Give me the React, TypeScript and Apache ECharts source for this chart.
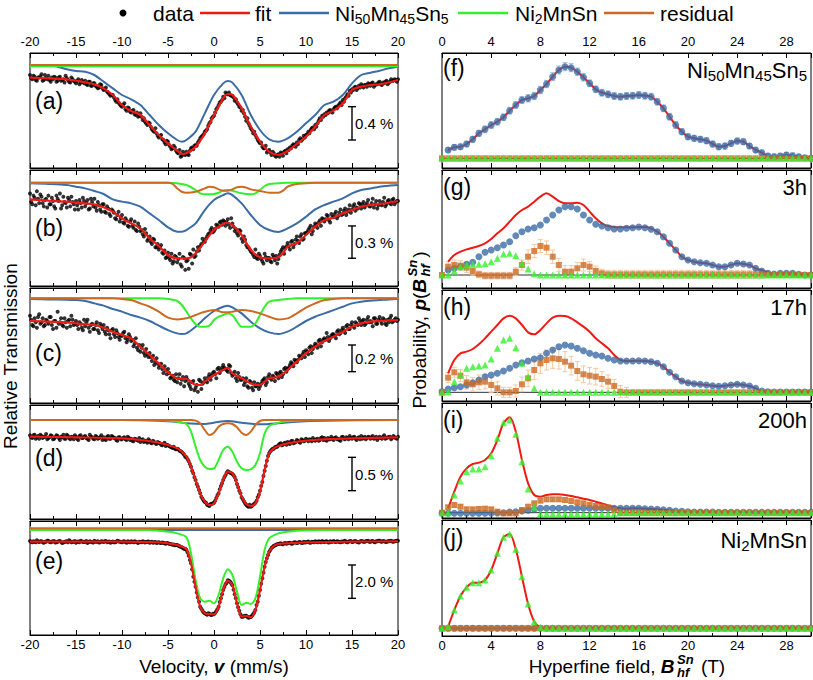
import React, { useEffect, useRef } from 'react';
import * as echarts from 'echarts';

const FONT = 'Liberation Sans, Arial, Helvetica, sans-serif';
const RED = '#f01a14';
const BLUE = '#3b6ca6';
const GREEN = '#33f02c';
const ORANGE = '#cc6a22';
const BLUE_ERR = '#9dbbdc';
const ORANGE_ERR = '#f5c6a0';

// ---------- velocity channels (left panels) ----------
const VELOCITY = Array.from({ length: 161 }, (_, i) => -20 + i * 0.25);
const VELOCITY2 = Array.from({ length: 160 }, (_, i) => -19.875 + i * 0.25);

const DATA_A = [
  -0.12, -0.17, -0.14, -0.19, -0.15, -0.11, -0.18, -0.16, -0.13, -0.2, -0.17, -0.15, -0.19, -0.14, -0.18, -0.21,
  -0.16, -0.2, -0.15, -0.19, -0.22, -0.17, -0.21, -0.2, -0.19, -0.24, -0.2, -0.25, -0.22, -0.26, -0.27, -0.24,
  -0.3, -0.27, -0.33, -0.37, -0.36, -0.42, -0.41, -0.47, -0.5, -0.46, -0.55, -0.52, -0.57, -0.54, -0.6, -0.62,
  -0.58, -0.66, -0.68, -0.72, -0.7, -0.77, -0.8, -0.82, -0.87, -0.84, -0.9, -0.95, -0.92, -0.98, -1.0, -0.99,
  -1.05, -1.02, -1.09, -1.07, -1.04, -1.08, -1.0, -1.01, -0.96, -0.93, -0.88, -0.85, -0.8, -0.77, -0.7, -0.64,
  -0.61, -0.53, -0.48, -0.44, -0.38, -0.33, -0.35, -0.36, -0.37, -0.43, -0.45, -0.5, -0.55, -0.58, -0.67, -0.7,
  -0.76, -0.82, -0.84, -0.9, -0.94, -0.98, -1.0, -1.05, -1.02, -1.08, -1.06, -1.1, -1.07, -1.05, -1.09, -1.03,
  -1.01, -0.99, -0.97, -0.96, -0.93, -0.9, -0.91, -0.85, -0.84, -0.8, -0.78, -0.75, -0.72, -0.7, -0.64, -0.61,
  -0.59, -0.57, -0.55, -0.56, -0.53, -0.5, -0.49, -0.45, -0.42, -0.4, -0.35, -0.31, -0.29, -0.27, -0.3, -0.25,
  -0.23, -0.27, -0.24, -0.22, -0.25, -0.21, -0.24, -0.23, -0.2, -0.24, -0.22, -0.19, -0.21, -0.17, -0.19, -0.18,
  -0.17,
];
const DATA_A2 = [
  -0.16, -0.13, -0.18, -0.15, -0.14, -0.19, -0.12, -0.17, -0.18, -0.15, -0.14, -0.2, -0.15, -0.19, -0.17, -0.13,
  -0.18, -0.21, -0.17, -0.2, -0.19, -0.23, -0.18, -0.22, -0.23, -0.2, -0.25, -0.22, -0.25, -0.28, -0.23, -0.28,
  -0.29, -0.32, -0.35, -0.36, -0.39, -0.44, -0.45, -0.49, -0.48, -0.53, -0.51, -0.56, -0.55, -0.59, -0.57, -0.61,
  -0.62, -0.64, -0.7, -0.69, -0.74, -0.79, -0.76, -0.85, -0.85, -0.89, -0.93, -0.91, -0.96, -1.01, -0.97, -1.03,
  -1.06, -1.1, -1.04, -1.08, -1.07, -1.03, -0.99, -0.97, -0.97, -0.91, -0.86, -0.83, -0.79, -0.73, -0.68, -0.62,
  -0.57, -0.51, -0.45, -0.42, -0.4, -0.35, -0.33, -0.37, -0.39, -0.41, -0.47, -0.51, -0.54, -0.62, -0.64, -0.73,
  -0.78, -0.8, -0.87, -0.92, -0.93, -1.0, -0.97, -1.03, -1.05, -1.04, -1.09, -1.08, -1.1, -1.06, -1.04, -1.06,
  -1.02, -1.0, -0.95, -0.98, -0.95, -0.88, -0.89, -0.87, -0.83, -0.82, -0.76, -0.77, -0.74, -0.67, -0.66, -0.62,
  -0.6, -0.58, -0.54, -0.57, -0.51, -0.52, -0.47, -0.48, -0.44, -0.38, -0.37, -0.33, -0.3, -0.26, -0.28, -0.27,
  -0.25, -0.24, -0.26, -0.23, -0.22, -0.26, -0.23, -0.21, -0.23, -0.21, -0.2, -0.23, -0.2, -0.19, -0.17, -0.2,
];
const DATA_B = [
  -0.1, -0.2, -0.14, -0.08, -0.19, -0.13, -0.22, -0.15, -0.12, -0.2, -0.17, -0.24, -0.15, -0.1, -0.21, -0.18,
  -0.23, -0.16, -0.13, -0.2, -0.17, -0.25, -0.19, -0.14, -0.22, -0.16, -0.24, -0.18, -0.15, -0.26, -0.21, -0.27,
  -0.2, -0.28, -0.24, -0.31, -0.26, -0.33, -0.3, -0.36, -0.3, -0.38, -0.35, -0.41, -0.34, -0.42, -0.44, -0.38,
  -0.45, -0.48, -0.43, -0.54, -0.5, -0.57, -0.53, -0.6, -0.62, -0.58, -0.66, -0.7, -0.65, -0.72, -0.75, -0.68,
  -0.74, -0.66, -0.78, -0.7, -0.73, -0.8, -0.67, -0.62, -0.68, -0.6, -0.59, -0.52, -0.55, -0.5, -0.47, -0.42,
  -0.45, -0.39, -0.41, -0.36, -0.35, -0.4, -0.34, -0.42, -0.38, -0.45, -0.47, -0.44, -0.52, -0.5, -0.58, -0.6,
  -0.64, -0.67, -0.62, -0.71, -0.68, -0.73, -0.66, -0.72, -0.7, -0.74, -0.69, -0.68, -0.71, -0.64, -0.6, -0.61,
  -0.56, -0.62, -0.54, -0.57, -0.5, -0.56, -0.48, -0.52, -0.47, -0.44, -0.4, -0.45, -0.38, -0.42, -0.35, -0.33,
  -0.36, -0.3, -0.35, -0.29, -0.32, -0.27, -0.31, -0.25, -0.29, -0.24, -0.27, -0.21, -0.25, -0.2, -0.23, -0.19,
  -0.24, -0.18, -0.21, -0.16, -0.22, -0.15, -0.2, -0.24, -0.17, -0.21, -0.14, -0.2, -0.16, -0.2, -0.15, -0.18,
  -0.17,
];
const DATA_B2 = [
  -0.18, -0.12, -0.21, -0.15, -0.11, -0.19, -0.16, -0.23, -0.2, -0.14, -0.22, -0.12, -0.17, -0.24, -0.13, -0.19,
  -0.14, -0.22, -0.18, -0.25, -0.21, -0.16, -0.23, -0.17, -0.19, -0.25, -0.15, -0.22, -0.23, -0.18, -0.25, -0.2,
  -0.27, -0.22, -0.29, -0.25, -0.28, -0.34, -0.27, -0.33, -0.37, -0.33, -0.4, -0.36, -0.4, -0.36, -0.45, -0.41,
  -0.44, -0.5, -0.47, -0.52, -0.55, -0.52, -0.6, -0.57, -0.6, -0.65, -0.63, -0.69, -0.7, -0.66, -0.73, -0.69,
  -0.71, -0.76, -0.69, -0.81, -0.72, -0.66, -0.75, -0.69, -0.64, -0.63, -0.57, -0.55, -0.52, -0.48, -0.44, -0.46,
  -0.43, -0.4, -0.37, -0.39, -0.36, -0.37, -0.39, -0.33, -0.41, -0.43, -0.49, -0.45, -0.55, -0.53, -0.6, -0.62,
  -0.65, -0.69, -0.7, -0.66, -0.71, -0.75, -0.69, -0.7, -0.73, -0.67, -0.72, -0.75, -0.67, -0.62, -0.66, -0.59,
  -0.59, -0.55, -0.6, -0.53, -0.54, -0.5, -0.53, -0.47, -0.46, -0.42, -0.48, -0.41, -0.39, -0.37, -0.4, -0.34,
  -0.34, -0.31, -0.37, -0.32, -0.29, -0.33, -0.28, -0.3, -0.26, -0.3, -0.25, -0.28, -0.22, -0.26, -0.24, -0.2,
  -0.2, -0.23, -0.19, -0.22, -0.19, -0.23, -0.17, -0.21, -0.2, -0.18, -0.22, -0.17, -0.19, -0.16, -0.2, -0.17,
];
const DATA_C = [
  -0.13, -0.2, -0.15, -0.22, -0.12, -0.18, -0.21, -0.16, -0.19, -0.14, -0.23, -0.17, -0.1, -0.18, -0.2, -0.15,
  -0.22, -0.16, -0.13, -0.2, -0.17, -0.23, -0.19, -0.24, -0.21, -0.16, -0.25, -0.19, -0.23, -0.18, -0.26, -0.21,
  -0.2, -0.27, -0.24, -0.3, -0.23, -0.29, -0.26, -0.31, -0.28, -0.25, -0.33, -0.27, -0.32, -0.36, -0.3, -0.39,
  -0.4, -0.35, -0.43, -0.42, -0.41, -0.47, -0.5, -0.45, -0.52, -0.49, -0.56, -0.54, -0.53, -0.6, -0.58, -0.62,
  -0.63, -0.57, -0.61, -0.66, -0.59, -0.64, -0.68, -0.62, -0.67, -0.7, -0.62, -0.64, -0.6, -0.63, -0.57, -0.58,
  -0.55, -0.6, -0.52, -0.54, -0.5, -0.53, -0.55, -0.51, -0.58, -0.55, -0.62, -0.59, -0.61, -0.65, -0.6, -0.67,
  -0.63, -0.69, -0.66, -0.64, -0.66, -0.62, -0.6, -0.63, -0.57, -0.61, -0.59, -0.56, -0.6, -0.55, -0.57, -0.52,
  -0.53, -0.5, -0.49, -0.46, -0.48, -0.43, -0.45, -0.4, -0.39, -0.42, -0.36, -0.38, -0.34, -0.37, -0.31, -0.33,
  -0.3, -0.26, -0.32, -0.28, -0.27, -0.3, -0.24, -0.26, -0.22, -0.26, -0.2, -0.23, -0.18, -0.22, -0.19, -0.15,
  -0.2, -0.16, -0.19, -0.14, -0.17, -0.21, -0.15, -0.19, -0.14, -0.19, -0.16, -0.2, -0.18, -0.13, -0.17, -0.15,
  -0.16,
];
const DATA_C2 = [
  -0.16, -0.21, -0.18, -0.14, -0.19, -0.15, -0.2, -0.17, -0.14, -0.2, -0.17, -0.22, -0.19, -0.15, -0.21, -0.18,
  -0.17, -0.21, -0.16, -0.19, -0.2, -0.18, -0.22, -0.16, -0.18, -0.22, -0.2, -0.23, -0.2, -0.24, -0.19, -0.23,
  -0.25, -0.22, -0.27, -0.24, -0.27, -0.24, -0.29, -0.28, -0.26, -0.3, -0.31, -0.29, -0.31, -0.34, -0.37, -0.35,
  -0.37, -0.41, -0.38, -0.44, -0.44, -0.43, -0.48, -0.49, -0.5, -0.53, -0.51, -0.57, -0.56, -0.59, -0.61, -0.57,
  -0.6, -0.64, -0.59, -0.62, -0.61, -0.66, -0.63, -0.69, -0.65, -0.61, -0.68, -0.63, -0.62, -0.59, -0.61, -0.56,
  -0.57, -0.53, -0.56, -0.52, -0.52, -0.54, -0.5, -0.56, -0.57, -0.6, -0.56, -0.61, -0.6, -0.63, -0.66, -0.62,
  -0.67, -0.63, -0.66, -0.68, -0.64, -0.61, -0.65, -0.59, -0.6, -0.58, -0.62, -0.57, -0.56, -0.59, -0.53, -0.55,
  -0.52, -0.48, -0.51, -0.47, -0.46, -0.44, -0.42, -0.44, -0.4, -0.37, -0.41, -0.36, -0.35, -0.32, -0.36, -0.31,
  -0.31, -0.29, -0.3, -0.27, -0.28, -0.25, -0.27, -0.24, -0.24, -0.21, -0.23, -0.2, -0.21, -0.18, -0.2, -0.17,
  -0.17, -0.2, -0.16, -0.18, -0.18, -0.15, -0.19, -0.16, -0.17, -0.15, -0.19, -0.16, -0.15, -0.18, -0.16, -0.17,
];
const DATA_D = [
  -0.23, -0.27, -0.22, -0.26, -0.28, -0.24, -0.25, -0.21, -0.27, -0.23, -0.29, -0.26, -0.24, -0.3, -0.26, -0.28,
  -0.22, -0.27, -0.25, -0.29, -0.25, -0.3, -0.23, -0.27, -0.24, -0.28, -0.22, -0.26, -0.29, -0.25, -0.27, -0.23,
  -0.26, -0.3, -0.24, -0.28, -0.25, -0.27, -0.31, -0.26, -0.29, -0.26, -0.3, -0.27, -0.28, -0.32, -0.29, -0.31,
  -0.33, -0.29, -0.31, -0.34, -0.31, -0.35, -0.33, -0.36, -0.34, -0.37, -0.36, -0.39, -0.38, -0.4, -0.42, -0.43,
  -0.43, -0.46, -0.48, -0.52, -0.56, -0.62, -0.7, -0.8, -0.9, -1.0, -1.1, -1.18, -1.23, -1.27, -1.29, -1.26,
  -1.24, -1.17, -1.1, -0.99, -0.9, -0.83, -0.77, -0.79, -0.81, -0.86, -0.96, -1.06, -1.16, -1.22, -1.27, -1.3,
  -1.3, -1.27, -1.24, -1.16, -1.06, -0.93, -0.76, -0.61, -0.5, -0.45, -0.43, -0.4, -0.38, -0.35, -0.37, -0.34,
  -0.33, -0.36, -0.31, -0.34, -0.3, -0.33, -0.29, -0.32, -0.28, -0.32, -0.3, -0.27, -0.31, -0.28, -0.3, -0.26,
  -0.27, -0.31, -0.29, -0.25, -0.3, -0.26, -0.28, -0.31, -0.25, -0.29, -0.27, -0.24, -0.28, -0.25, -0.3, -0.26,
  -0.24, -0.27, -0.29, -0.25, -0.28, -0.24, -0.27, -0.3, -0.25, -0.28, -0.23, -0.27, -0.26, -0.29, -0.24, -0.27,
  -0.25,
];
const DATA_D2 = [
  -0.26, -0.23, -0.28, -0.24, -0.22, -0.27, -0.25, -0.29, -0.26, -0.24, -0.28, -0.23, -0.27, -0.25, -0.22, -0.28,
  -0.24, -0.29, -0.26, -0.23, -0.28, -0.24, -0.27, -0.25, -0.27, -0.3, -0.25, -0.28, -0.24, -0.28, -0.26, -0.3,
  -0.29, -0.25, -0.28, -0.24, -0.27, -0.3, -0.26, -0.29, -0.27, -0.29, -0.25, -0.3, -0.31, -0.28, -0.3, -0.27,
  -0.3, -0.33, -0.32, -0.29, -0.34, -0.31, -0.35, -0.33, -0.35, -0.38, -0.34, -0.37, -0.39, -0.41, -0.4, -0.44,
  -0.44, -0.47, -0.5, -0.55, -0.59, -0.66, -0.76, -0.86, -0.96, -1.05, -1.15, -1.21, -1.24, -1.28, -1.26, -1.25,
  -1.21, -1.13, -1.04, -0.95, -0.86, -0.79, -0.78, -0.8, -0.83, -0.9, -1.01, -1.1, -1.19, -1.25, -1.29, -1.27,
  -1.29, -1.26, -1.21, -1.12, -0.99, -0.84, -0.69, -0.54, -0.47, -0.43, -0.41, -0.4, -0.36, -0.38, -0.35, -0.37,
  -0.35, -0.32, -0.35, -0.33, -0.31, -0.34, -0.3, -0.31, -0.3, -0.29, -0.32, -0.3, -0.29, -0.31, -0.27, -0.3,
  -0.3, -0.27, -0.29, -0.28, -0.27, -0.29, -0.3, -0.26, -0.28, -0.26, -0.29, -0.27, -0.26, -0.28, -0.27, -0.29,
  -0.28, -0.25, -0.27, -0.26, -0.26, -0.28, -0.25, -0.27, -0.27, -0.25, -0.28, -0.26, -0.25, -0.27, -0.26, -0.28,
];
const DATA_E = [
  -0.76, -0.84, -0.8, -0.72, -0.82, -0.78, -0.86, -0.8, -0.74, -0.83, -0.79, -0.85, -0.8, -0.76, -0.88, -0.82,
  -0.78, -0.72, -0.84, -0.8, -0.86, -0.79, -0.75, -0.82, -0.8, -0.88, -0.77, -0.83, -0.74, -0.81, -0.85, -0.78,
  -0.82, -0.76, -0.8, -0.86, -0.79, -0.84, -0.74, -0.81, -0.83, -0.78, -0.86, -0.8, -0.77, -0.84, -0.8, -0.88,
  -0.82, -0.78, -0.85, -0.8, -0.86, -0.81, -0.84, -0.88, -0.84, -0.88, -0.86, -0.92, -0.9, -0.94, -0.98, -1.02,
  -1.0, -1.08, -1.14, -1.24, -1.3, -1.65, -2.1, -2.9, -3.5, -4.15, -4.7, -4.95, -5.1, -5.18, -5.12, -5.2,
  -5.16, -4.98, -4.7, -4.2, -3.7, -3.35, -3.12, -3.2, -3.42, -3.95, -4.5, -4.95, -5.3, -5.28, -5.24, -5.36,
  -5.32, -5.15, -4.9, -4.4, -3.7, -3.0, -2.3, -1.8, -1.4, -1.18, -1.05, -0.98, -0.94, -0.9, -0.96, -0.88,
  -0.9, -0.86, -0.93, -0.84, -0.88, -0.82, -0.87, -0.8, -0.84, -0.79, -0.86, -0.82, -0.78, -0.84, -0.8, -0.76,
  -0.82, -0.78, -0.85, -0.8, -0.76, -0.82, -0.79, -0.84, -0.8, -0.74, -0.83, -0.78, -0.82, -0.77, -0.8, -0.85,
  -0.76, -0.81, -0.78, -0.74, -0.8, -0.76, -0.83, -0.78, -0.74, -0.8, -0.77, -0.82, -0.78, -0.74, -0.8, -0.76,
  -0.75,
];
const DATA_E2 = [
  -0.81, -0.77, -0.83, -0.79, -0.78, -0.84, -0.8, -0.75, -0.82, -0.79, -0.76, -0.84, -0.77, -0.81, -0.85, -0.79,
  -0.83, -0.78, -0.8, -0.76, -0.8, -0.84, -0.77, -0.81, -0.76, -0.82, -0.8, -0.85, -0.81, -0.78, -0.84, -0.79,
  -0.77, -0.83, -0.79, -0.82, -0.84, -0.8, -0.77, -0.81, -0.79, -0.82, -0.78, -0.84, -0.81, -0.78, -0.83, -0.8,
  -0.84, -0.8, -0.82, -0.79, -0.83, -0.86, -0.82, -0.85, -0.87, -0.85, -0.89, -0.88, -0.93, -0.95, -0.97, -1.0,
  -1.04, -1.1, -1.18, -1.22, -1.45, -1.9, -2.45, -3.2, -3.85, -4.4, -4.82, -5.05, -5.14, -5.1, -5.18, -5.13,
  -5.08, -4.85, -4.42, -3.95, -3.52, -3.27, -3.14, -3.3, -3.68, -4.2, -4.74, -5.15, -5.3, -5.25, -5.3, -5.33,
  -5.24, -5.05, -4.6, -4.05, -3.33, -2.66, -2.02, -1.6, -1.3, -1.12, -1.03, -0.96, -0.92, -0.94, -0.9, -0.93,
  -0.88, -0.91, -0.87, -0.85, -0.86, -0.83, -0.88, -0.85, -0.82, -0.85, -0.8, -0.83, -0.81, -0.78, -0.83, -0.8,
  -0.79, -0.83, -0.77, -0.81, -0.8, -0.77, -0.82, -0.79, -0.78, -0.82, -0.79, -0.76, -0.8, -0.76, -0.82, -0.79,
  -0.78, -0.8, -0.76, -0.81, -0.77, -0.8, -0.78, -0.75, -0.79, -0.76, -0.8, -0.78, -0.76, -0.79, -0.77, -0.75,
];

const FIT_A = [[-20,-0.152],[-18,-0.16],[-16,-0.172],[-15,-0.188],[-14,-0.208],[-13,-0.232],[-12,-0.28],[-11,-0.36],[-10,-0.48],[-9,-0.552],[-8,-0.6],[-7,-0.72],[-6,-0.84],[-5,-0.94],[-4,-1.028],[-3.5,-1.068],[-3,-1.06],[-2,-0.98],[-1,-0.82],[0,-0.6],[1,-0.4],[1.5,-0.348],[2,-0.36],[3,-0.52],[4,-0.74],[5,-0.92],[6,-1.04],[7,-1.08],[8,-1.032],[9,-0.948],[10,-0.86],[11,-0.74],[12,-0.6],[13,-0.548],[14,-0.46],[15,-0.3],[16,-0.26],[17,-0.24],[18,-0.232],[19,-0.208],[20,-0.18]];
const HOST_A = [[-20,0],[-18,0],[-17,-0.02],[-16,-0.052],[-15,-0.072],[-14,-0.08],[-13,-0.12],[-12,-0.2],[-11,-0.28],[-10,-0.36],[-9,-0.412],[-8,-0.48],[-7,-0.6],[-6,-0.72],[-5,-0.82],[-4,-0.9],[-3.5,-0.92],[-3,-0.9],[-2,-0.8],[-1,-0.58],[0,-0.36],[1,-0.22],[1.5,-0.192],[2,-0.212],[3,-0.36],[4,-0.6],[5,-0.78],[6,-0.892],[7,-0.92],[8,-0.88],[9,-0.8],[10,-0.7],[11,-0.6],[12,-0.48],[13,-0.44],[14,-0.36],[15,-0.22],[16,-0.12],[17,-0.092],[18,-0.068],[19,-0.04],[20,-0.02]];
const NI2_A = [[-20,-0.015],[20,-0.015]];
const RES_A = [[-20,0],[20,0]];

const FIT_B = [[-20,-0.155],[-18,-0.167],[-16,-0.176],[-15,-0.186],[-14,-0.192],[-13,-0.201],[-12,-0.229],[-11,-0.269],[-10,-0.331],[-9,-0.378],[-8,-0.424],[-7,-0.517],[-6,-0.588],[-5,-0.672],[-4,-0.703],[-3,-0.703],[-2.5,-0.693],[-2,-0.656],[-1,-0.548],[0,-0.44],[1,-0.384],[1.5,-0.372],[2,-0.393],[3,-0.486],[4,-0.625],[5,-0.693],[6,-0.703],[7,-0.693],[7.5,-0.656],[8,-0.594],[9,-0.563],[10,-0.486],[11,-0.409],[12,-0.347],[13,-0.325],[14,-0.285],[15,-0.254],[16,-0.223],[17,-0.207],[18,-0.198],[19,-0.186],[20,-0.17]];
const HOST_B = [[-20,-0.006],[-18,-0.012],[-16,-0.022],[-15,-0.037],[-14,-0.053],[-13,-0.077],[-12,-0.105],[-11,-0.155],[-10,-0.176],[-9,-0.192],[-8,-0.223],[-7,-0.285],[-6,-0.347],[-5,-0.415],[-4,-0.455],[-3.5,-0.455],[-3,-0.44],[-2,-0.378],[-1,-0.254],[0,-0.161],[1,-0.115],[1.5,-0.099],[2,-0.115],[3,-0.192],[4,-0.3],[5,-0.393],[6,-0.44],[7,-0.458],[8,-0.424],[9,-0.378],[10,-0.316],[11,-0.248],[12,-0.207],[13,-0.176],[14,-0.146],[15,-0.099],[16,-0.068],[17,-0.053],[18,-0.037],[19,-0.028],[20,-0.022]];
const NI2_B = [[-20,0],[-5,0],[-4,-0.006],[-3,-0.022],[-2,-0.068],[-1.5,-0.099],[-1,-0.108],[0,-0.105],[0.5,-0.093],[1,-0.074],[1.5,-0.068],[2,-0.074],[3,-0.099],[4,-0.108],[4.5,-0.099],[5,-0.068],[5.5,-0.031],[6,-0.012],[7,-0.006],[8,0],[20,0]];
const RES_B = [[-20,0],[-5,0],[-4.5,-0.012],[-4,-0.053],[-3.5,-0.084],[-3,-0.093],[-2,-0.084],[-1,-0.053],[-0.5,-0.037],[0,-0.043],[0.5,-0.062],[1,-0.074],[1.5,-0.074],[2,-0.062],[2.5,-0.043],[3,-0.037],[3.5,-0.046],[4,-0.062],[5,-0.077],[6,-0.093],[7,-0.093],[7.5,-0.074],[8,-0.037],[8.5,-0.022],[9,-0.012],[10,-0.006],[11,0],[20,0]];

const FIT_C = [[-20,-0.17],[-18,-0.175],[-16,-0.18],[-15,-0.188],[-14,-0.195],[-13,-0.2],[-12,-0.22],[-11,-0.25],[-10,-0.275],[-9,-0.3],[-8,-0.363],[-7,-0.425],[-6,-0.488],[-5,-0.555],[-4,-0.6],[-3,-0.605],[-2.5,-0.625],[-2,-0.65],[-1.5,-0.65],[-1,-0.625],[0,-0.575],[1,-0.538],[1.5,-0.52],[2,-0.563],[3,-0.6],[4,-0.638],[4.5,-0.65],[5,-0.65],[5.5,-0.625],[6,-0.6],[7,-0.588],[8,-0.538],[9,-0.475],[10,-0.413],[11,-0.363],[12,-0.32],[13,-0.288],[14,-0.25],[15,-0.213],[16,-0.188],[17,-0.175],[18,-0.17],[19,-0.165],[20,-0.163]];
const HOST_C = [[-20,-0.005],[-18,-0.008],[-16,-0.01],[-15,-0.013],[-14,-0.02],[-13,-0.038],[-12,-0.055],[-11,-0.08],[-10,-0.1],[-9,-0.125],[-8,-0.145],[-7,-0.17],[-6,-0.205],[-5,-0.238],[-4,-0.263],[-3.5,-0.268],[-3,-0.263],[-2,-0.213],[-1,-0.15],[0,-0.095],[1,-0.063],[1.5,-0.055],[2,-0.068],[3,-0.113],[4,-0.175],[5,-0.225],[6,-0.255],[7,-0.268],[8,-0.25],[9,-0.213],[10,-0.17],[11,-0.138],[12,-0.113],[13,-0.088],[14,-0.063],[15,-0.038],[16,-0.025],[17,-0.018],[18,-0.013],[19,-0.008],[20,-0.005]];
const NI2_C = [[-20,0],[-6,0],[-5,-0.005],[-4,-0.02],[-3.5,-0.05],[-3,-0.1],[-2.5,-0.15],[-2,-0.195],[-1.5,-0.213],[-1,-0.213],[-0.5,-0.205],[0,-0.163],[0.5,-0.138],[1,-0.125],[1.5,-0.113],[2,-0.125],[2.5,-0.175],[3,-0.213],[4,-0.213],[4.5,-0.188],[5,-0.125],[5.5,-0.063],[6,-0.025],[7,-0.013],[8,-0.005],[9,0],[20,0]];
const RES_C = [[-20,0],[-11,0],[-10,-0.005],[-9,-0.013],[-8,-0.038],[-7,-0.063],[-6,-0.1],[-5,-0.145],[-4,-0.158],[-3,-0.15],[-2,-0.125],[-1,-0.1],[0,-0.088],[0.5,-0.095],[1,-0.105],[1.5,-0.105],[2,-0.1],[3,-0.088],[4,-0.095],[5,-0.113],[6,-0.138],[7,-0.158],[8,-0.15],[9,-0.113],[10,-0.07],[11,-0.038],[12,-0.013],[13,-0.005],[14,0],[20,0]];

const FIT_D = [[-20,-0.25],[-15,-0.26],[-10,-0.275],[-8,-0.3],[-6,-0.34],[-5,-0.375],[-4,-0.425],[-3.5,-0.475],[-3,-0.55],[-2.5,-0.7],[-2,-0.9],[-1.5,-1.1],[-1,-1.225],[-0.5,-1.275],[0,-1.25],[0.5,-1.1],[1,-0.9],[1.5,-0.775],[2,-0.8],[2.5,-0.95],[3,-1.15],[3.5,-1.26],[4,-1.29],[4.5,-1.25],[5,-1.075],[5.5,-0.75],[6,-0.5],[6.5,-0.425],[7,-0.39],[8,-0.35],[10,-0.31],[12,-0.29],[15,-0.275],[20,-0.26]];
const HOST_D = [[-20,0],[-10,0],[-6,-0.01],[-4,-0.03],[-3,-0.05],[-1,-0.06],[0,-0.04],[1.5,-0.015],[3,-0.04],[5,-0.065],[7,-0.05],[9,-0.025],[12,-0.01],[20,0]];
const NI2_D = [[-20,0],[-6,0],[-5,-0.01],[-4,-0.025],[-3,-0.06],[-2.5,-0.175],[-2,-0.4],[-1.5,-0.6],[-1,-0.7],[-0.5,-0.735],[0,-0.725],[0.5,-0.6],[1,-0.45],[1.5,-0.4],[2,-0.475],[2.5,-0.625],[3,-0.725],[3.5,-0.75],[4,-0.74],[4.5,-0.675],[5,-0.5],[5.5,-0.2],[6,-0.09],[7,-0.04],[8,-0.02],[10,-0.005],[12,0],[20,0]];
const RES_D = [[-20,0],[-2.5,0],[-2,-0.01],[-1.5,-0.05],[-1,-0.15],[-0.5,-0.225],[0,-0.19],[0.5,-0.1],[1,-0.06],[1.5,-0.05],[2,-0.06],[2.5,-0.11],[3,-0.19],[3.5,-0.225],[4,-0.175],[4.5,-0.075],[5,-0.015],[5.5,0],[20,0]];

const FIT_E = [[-20,-0.8],[-15,-0.8],[-10,-0.8],[-6,-0.84],[-5,-0.9],[-4,-1.0],[-3,-1.26],[-2.5,-2.1],[-2,-3.5],[-1.5,-4.7],[-1,-5.1],[-0.5,-5.14],[0,-5.16],[0.5,-4.7],[1,-3.7],[1.5,-3.14],[2,-3.4],[2.5,-4.5],[3,-5.3],[3.5,-5.26],[4,-5.34],[4.5,-4.9],[5,-3.7],[5.5,-2.3],[6,-1.4],[6.5,-1.06],[7,-0.94],[8,-0.9],[10,-0.84],[15,-0.8],[20,-0.78]];
const HOST_E = [[-20,-0.1],[20,-0.1]];
const NI2_E = [[-20,-0.1],[-7,-0.1],[-6,-0.14],[-5,-0.2],[-4,-0.3],[-3,-0.54],[-2.5,-1.5],[-2,-3.1],[-1.5,-4.2],[-1,-4.4],[-0.5,-4.34],[0,-4.5],[0.5,-4.0],[1,-3.0],[1.5,-2.46],[2,-2.8],[2.5,-3.8],[3,-4.6],[3.5,-4.46],[4,-4.54],[4.5,-4.2],[5,-2.9],[5.5,-1.3],[6,-0.6],[7,-0.3],[8,-0.2],[10,-0.12],[12,-0.1],[20,-0.1]];
const RES_E = [[-20,0],[20,0]];

// ---------- hyperfine field distributions (right panels) ----------
const HF = Array.from({ length: 61 }, (_, i) => i * 0.5);

const ZERO_61 = [
  0, 0, 0, 0, 0, 0, 0, 0, 0, 0, 0, 0, 0, 0, 0, 0, 0, 0, 0, 0,
  0, 0, 0, 0, 0, 0, 0, 0, 0, 0, 0, 0, 0, 0, 0, 0, 0, 0, 0, 0,
  0, 0, 0, 0, 0, 0, 0, 0, 0, 0, 0, 0, 0, 0, 0, 0, 0, 0, 0, 0, 0,
];

const BLUE_F = [
  null, 0.25, 0.33, 0.35, 0.43, 0.57, 0.75, 0.87, 1.0, 1.1,
  1.23, 1.43, 1.6, 1.75, 1.8, 1.87, 2.05, 2.23, 2.45, 2.65,
  2.75, 2.72, 2.6, 2.43, 2.25, 2.07, 1.97, 1.92, 1.87, 1.85,
  1.87, 1.88, 1.9, 1.88, 1.85, 1.7, 1.5, 1.25, 1.0, 0.8,
  0.65, 0.6, 0.57, 0.53, 0.43, 0.35, 0.37, 0.45, 0.52, 0.5,
  0.37, 0.25, 0.17, 0.07, 0.05, 0.07, 0.1, 0.08, 0.05, 0.02,
  0,
];
const BLUE_F_ERR = [
  0, 0.07, 0.08, 0.08, 0.08, 0.09, 0.09, 0.1, 0.1, 0.1,
  0.1, 0.1, 0.1, 0.1, 0.11, 0.11, 0.11, 0.11, 0.12, 0.12,
  0.12, 0.12, 0.11, 0.11, 0.1, 0.1, 0.1, 0.1, 0.1, 0.1,
  0.1, 0.1, 0.1, 0.1, 0.1, 0.1, 0.1, 0.1, 0.1, 0.09,
  0.09, 0.09, 0.09, 0.09, 0.09, 0.09, 0.09, 0.09, 0.09, 0.09,
  0.08, 0.08, 0.08, 0.08, 0.08, 0.08, 0.08, 0.08, 0.07, 0.07,
  0.06,
];

const RED_G = [
  null, 0.4, 0.6, 0.7, 0.77, 0.82, 0.87, 0.95, 1.08, 1.25,
  1.4, 1.6, 1.8, 1.95, 2.05, 2.2, 2.35, 2.45, 2.35, 2.22,
  2.15, 2.15, 2.17, 2.1, 1.9, 1.7, 1.55, 1.47, 1.44, 1.43,
  1.43, 1.43, 1.44, 1.44, 1.4, 1.3, 1.15, 0.95, 0.75, 0.55,
  0.45, 0.4, 0.37, 0.35, 0.3, 0.25, 0.25, 0.3, 0.35, 0.33,
  0.3, 0.2, 0.14, 0.08, 0.04, 0.05, 0.05, 0.05, 0.02, 0,
  0,
];
const BLUE_G = [
  null, 0.15, 0.2, 0.25, 0.32, 0.38, 0.55, 0.68, 0.75, 0.82,
  0.9, 1.0, 1.18, 1.3, 1.38, 1.42, 1.5, 1.65, 1.8, 1.95,
  2.05, 2.05, 1.98, 1.8, 1.65, 1.52, 1.47, 1.42, 1.38, 1.38,
  1.4, 1.42, 1.44, 1.42, 1.37, 1.3, 1.15, 0.95, 0.75, 0.55,
  0.45, 0.4, 0.37, 0.35, 0.3, 0.25, 0.25, 0.3, 0.35, 0.33,
  0.3, 0.2, 0.12, 0.05, 0.03, 0.05, 0.05, 0.05, 0.02, 0,
  0,
];
const GREEN_G = [
  0, 0, 0.12, 0.25, 0.3, 0.32, 0.32, 0.34, 0.4, 0.5,
  0.63, 0.65, 0.58, 0.35, 0.18, 0.04, 0, 0, 0, 0,
  0, 0, 0, 0, 0, 0, 0, 0, 0, 0,
  0, 0, 0, 0, 0, 0, 0, 0, 0, 0,
  0, 0, 0, 0, 0, 0, 0, 0, 0, 0,
  0, 0, 0, 0, 0, 0, 0, 0, 0, 0,
  0,
];
const ORANGE_G = [
  0, 0.25, 0.3, 0.28, 0.22, 0.12, 0.02, -0.02, -0.02, -0.02,
  -0.02, -0.02, 0.1, 0.3, 0.55, 0.72, 0.87, 0.82, 0.55, 0.3,
  0.1, 0.1, 0.2, 0.3, 0.25, 0.12, 0.05, 0.02, 0.02, 0.02,
  0.02, 0.02, 0.02, 0.02, 0.02, 0.02, 0.02, 0.02, 0.02, 0.02,
  0.02, 0.02, 0.02, 0.02, 0.02, 0.02, 0.02, 0.02, 0.02, 0.02,
  0.02, 0.02, 0.02, 0, 0, 0, 0, 0, 0, 0,
  0,
];
const ORANGE_G_ERR = [
  0, 0.15, 0.15, 0.15, 0.15, 0.12, 0.1, 0.1, 0.1, 0.1,
  0.1, 0.1, 0.12, 0.15, 0.2, 0.2, 0.2, 0.2, 0.2, 0.2,
  0.18, 0.18, 0.18, 0.18, 0.15, 0.15, 0.12, 0.12, 0.12, 0.12,
  0.12, 0.12, 0.12, 0.12, 0.12, 0.12, 0.12, 0.12, 0.12, 0.12,
  0.12, 0.12, 0.12, 0.12, 0.12, 0.12, 0.12, 0.12, 0.12, 0.12,
  0.12, 0.12, 0.12, 0.05, 0.05, 0.05, 0.05, 0.05, 0.05, 0.05,
  0.05,
];

const RED_H = [
  null, 0.57, 0.97, 1.17, 1.22, 1.3, 1.44, 1.62, 1.82, 2.02,
  2.22, 2.3, 2.22, 2.02, 1.8, 1.74, 1.87, 2.07, 2.24, 2.3,
  2.29, 2.22, 2.1, 1.97, 1.82, 1.62, 1.47, 1.32, 1.12, 0.97,
  0.94, 0.94, 0.95, 0.94, 0.92, 0.87, 0.77, 0.6, 0.47, 0.34,
  0.29, 0.26, 0.24, 0.22, 0.2, 0.18, 0.2, 0.22, 0.24, 0.22,
  0.19, 0.12, 0.04, 0.02, 0.01, 0.01, 0.01, 0.01, 0.01, 0.01,
  0.01,
];
const BLUE_H = [
  0.02, 0.1, 0.14, 0.17, 0.22, 0.29, 0.37, 0.47, 0.52, 0.57,
  0.64, 0.72, 0.82, 0.89, 0.94, 1.0, 1.04, 1.17, 1.27, 1.37,
  1.42, 1.39, 1.32, 1.25, 1.17, 1.12, 1.09, 1.02, 0.97, 0.94,
  0.94, 0.94, 0.95, 0.94, 0.92, 0.87, 0.77, 0.6, 0.47, 0.34,
  0.29, 0.26, 0.24, 0.22, 0.2, 0.18, 0.2, 0.22, 0.24, 0.22,
  0.19, 0.12, 0.04, 0.02, 0.01, 0.01, 0.01, 0.01, 0.01, 0.01,
  0.01,
];
const GREEN_H = [
  0, 0.02, 0.32, 0.52, 0.72, 0.77, 0.79, 0.82, 1.0, 1.32,
  1.57, 1.62, 1.34, 0.87, 0.47, 0.12, 0, 0, 0, 0,
  0, 0, 0, 0, 0, 0, 0, 0, 0, 0,
  0, 0, 0, 0, 0, 0, 0, 0, 0, 0,
  0, 0, 0, 0, 0, 0, 0, 0, 0, 0,
  0, 0, 0, 0, 0, 0, 0, 0, 0, 0,
  0,
];
const ORANGE_H = [
  0, 0.44, 0.6, 0.5, 0.3, 0.24, 0.3, 0.32, 0.22, 0.12,
  0, 0, 0.04, 0.24, 0.42, 0.67, 0.87, 0.97, 1.02, 1.0,
  0.92, 0.8, 0.64, 0.54, 0.5, 0.47, 0.4, 0.32, 0.19, 0.02,
  0, 0, 0, 0, 0, 0, 0, 0, 0, 0,
  0, 0, 0, 0, 0, 0, 0, 0, 0, 0,
  0, 0, 0, 0, 0, 0, 0, 0, 0, 0,
  0,
];
const ORANGE_H_ERR = [
  0, 0.15, 0.15, 0.18, 0.2, 0.2, 0.22, 0.22, 0.22, 0.2,
  0.15, 0.15, 0.18, 0.22, 0.25, 0.28, 0.3, 0.3, 0.3, 0.3,
  0.3, 0.28, 0.28, 0.25, 0.25, 0.25, 0.22, 0.2, 0.2, 0.18,
  0.15, 0.04, 0.04, 0.04, 0.04, 0.04, 0.04, 0.04, 0.04, 0.04,
  0.04, 0.04, 0.04, 0.04, 0.04, 0.04, 0.04, 0.04, 0.04, 0.04,
  0.04, 0.04, 0.04, 0.04, 0.04, 0.04, 0.04, 0.04, 0.04, 0.04,
  0.04,
];

const RED_I = [
  null, 0.13, 0.63, 1.08, 1.33, 1.46, 1.5, 1.58, 1.78, 2.18,
  2.68, 2.86, 2.43, 1.58, 0.88, 0.53, 0.48, 0.53, 0.55, 0.55,
  0.53, 0.5, 0.46, 0.42, 0.38, 0.33, 0.28, 0.22, 0.16, 0.13,
  0.12, 0.13, 0.13, 0.12, 0.11, 0.1, 0.09, 0.07, 0.05, 0.04,
  0.03, 0.02, 0.02, 0.02, 0.02, 0.01, 0.01, 0.01, 0.01, 0.01,
  0.01, 0.01, 0.01, 0.01, 0.01, 0.01, 0.01, 0.01, 0.01, 0.01,
  0.01,
];
const BLUE_I = [
  -0.02, -0.02, -0.02, -0.02, -0.02, -0.02, -0.02, -0.02, -0.02, -0.01,
  0, 0.02, 0.03, 0.05, 0.07, 0.1, 0.13, 0.13, 0.13, 0.13,
  0.13, 0.13, 0.13, 0.13, 0.13, 0.13, 0.13, 0.13, 0.13, 0.13,
  0.13, 0.13, 0.13, 0.12, 0.11, 0.1, 0.09, 0.07, 0.05, 0.04,
  0.03, 0.02, 0.02, 0.02, 0.02, 0.01, 0.01, 0.01, 0.01, 0.01,
  0.01, 0.01, 0.01, 0.01, 0.01, 0.01, 0.01, 0.01, 0.01, 0.01,
  0.01,
];
const GREEN_I = [
  0, 0, 0.53, 0.95, 1.23, 1.31, 1.31, 1.38, 1.71, 2.23,
  2.7, 2.78, 2.35, 1.53, 0.71, 0.16, -0.04, -0.04, -0.04, -0.04,
  -0.04, -0.04, -0.04, -0.04, -0.04, -0.04, -0.04, -0.04, -0.04, 0,
  0, 0, 0, 0, 0, 0, 0, 0, 0, 0,
  0, 0, 0, 0, 0, 0, 0, 0, 0, 0,
  0, 0, 0, 0, 0, 0, 0, 0, 0, 0,
  0,
];
const ORANGE_I = [
  0, 0.16, 0.23, 0.18, 0.1, 0.1, 0.11, 0.12, 0.1, 0.03,
  -0.02, -0.02, -0.02, 0.08, 0.18, 0.28, 0.36, 0.4, 0.4, 0.4,
  0.38, 0.35, 0.31, 0.28, 0.23, 0.2, 0.18, 0.16, 0.08, -0.01,
  -0.01, -0.01, -0.01, -0.01, -0.01, -0.01, -0.01, -0.01, -0.01, -0.01,
  -0.01, -0.01, -0.01, -0.01, -0.01, -0.01, -0.01, -0.01, -0.01, -0.01,
  -0.01, -0.01, -0.01, -0.01, -0.01, -0.01, -0.01, -0.01, -0.01, -0.01,
  -0.01,
];
const ORANGE_I_ERR = [
  0, 0.06, 0.06, 0.06, 0.06, 0.06, 0.06, 0.06, 0.06, 0.06,
  0.06, 0.06, 0.06, 0.06, 0.06, 0.06, 0.06, 0.06, 0.06, 0.06,
  0.06, 0.06, 0.06, 0.06, 0.06, 0.06, 0.06, 0.06, 0.06, 0.03,
  0.03, 0.03, 0.03, 0.03, 0.03, 0.03, 0.03, 0.03, 0.03, 0.03,
  0.03, 0.03, 0.03, 0.03, 0.03, 0.03, 0.03, 0.03, 0.03, 0.03,
  0.03, 0.03, 0.03, 0.03, 0.03, 0.03, 0.03, 0.03, 0.03, 0.03,
  0.03,
];

const RED_J = [
  null, 0.05, 0.55, 0.97, 1.23, 1.37, 1.37, 1.45, 1.75, 2.25,
  2.73, 2.83, 2.37, 1.55, 0.73, 0.2, 0.03, 0, 0, 0,
  0, 0, 0, 0, 0, 0, 0, 0, 0, 0,
  0, 0, 0, 0, 0, 0, 0, 0, 0, 0,
  0, 0, 0, 0, 0, 0, 0, 0, 0, 0,
  0, 0, 0, 0, 0, 0, 0, 0, 0, 0,
  0,
];
const GREEN_J = [
  0, 0.05, 0.55, 0.97, 1.23, 1.37, 1.37, 1.45, 1.75, 2.25,
  2.73, 2.83, 2.37, 1.55, 0.73, 0.2, 0.03, 0, 0, 0,
  0, 0, 0, 0, 0, 0, 0, 0, 0, 0,
  0, 0, 0, 0, 0, 0, 0, 0, 0, 0,
  0, 0, 0, 0, 0, 0, 0, 0, 0, 0,
  0, 0, 0, 0, 0, 0, 0, 0, 0, 0,
  0,
];

// ---------- layout ----------
const LEFT_BOX = [[53, 168], [170, 286], [288, 403], [405, 519], [521, 635]];
const RIGHT_BOX = [[53, 168], [170, 288], [290, 401], [403, 518], [520, 636]];
const LEFT_Y = [[-1.236, 0.144], [-0.96, 0.118], [-0.785, 0.0775], [-1.485, 0.225], [-6.4, 0.44]];
const RIGHT_Y = [[-0.29, 3.16], [-0.39, 3.15], [-0.26, 3.07], [-0.16, 3.29], [-0.23, 3.25]];

const LEFT_PANELS = [
  { tag: '(a)', data: DATA_A, data2: DATA_A2, fit: FIT_A, host: HOST_A, ni2: NI2_A, res: RES_A, bar: { text: '0.4 %', x: 15, top: -0.5, len: 0.4 }, labelY: 101 },
  { tag: '(b)', data: DATA_B, data2: DATA_B2, fit: FIT_B, host: HOST_B, ni2: NI2_B, res: RES_B, bar: { text: '0.3 %', x: 15, top: -0.402, len: 0.3 }, labelY: 228 },
  { tag: '(c)', data: DATA_C, data2: DATA_C2, fit: FIT_C, host: HOST_C, ni2: NI2_C, res: RES_C, bar: { text: '0.2 %', x: 15, top: -0.35, len: 0.2 }, labelY: 353 },
  { tag: '(d)', data: DATA_D, data2: DATA_D2, fit: FIT_D, host: HOST_D, ni2: NI2_D, res: RES_D, bar: { text: '0.5 %', x: 15, top: -0.56, len: 0.5 }, labelY: 458 },
  { tag: '(e)', data: DATA_E, data2: DATA_E2, fit: FIT_E, host: HOST_E, ni2: NI2_E, res: RES_E, bar: { text: '2.0 %', x: 15, top: -2.2, len: 2.0 }, labelY: 561 },
];

const RIGHT_PANELS = [
  { tag: '(f)', note: 'Ni{s|50}Mn{s|45}Sn{s|5}', red: BLUE_F, blue: BLUE_F, blueErr: BLUE_F_ERR, green: ZERO_61, orange: ZERO_61, orangeErr: null, labelY: 68, noteY: 70 },
  { tag: '(g)', note: '3h', red: RED_G, blue: BLUE_G, blueErr: null, green: GREEN_G, orange: ORANGE_G, orangeErr: ORANGE_G_ERR, labelY: 187, noteY: 187 },
  { tag: '(h)', note: '17h', red: RED_H, blue: BLUE_H, blueErr: null, green: GREEN_H, orange: ORANGE_H, orangeErr: ORANGE_H_ERR, labelY: 307, noteY: 307 },
  { tag: '(i)', note: '200h', red: RED_I, blue: BLUE_I, blueErr: null, green: GREEN_I, orange: ORANGE_I, orangeErr: ORANGE_I_ERR, labelY: 420, noteY: 420 },
  { tag: '(j)', note: 'Ni{s|2}MnSn', red: RED_J, blue: ZERO_61, blueErr: null, green: GREEN_J, orange: ZERO_61, orangeErr: null, labelY: 538, noteY: 540 },
];

// ---------- helpers ----------
let measureCtx: CanvasRenderingContext2D | null = null;
function tw(text: string, size: number, bi = false) {
  if (!measureCtx) measureCtx = document.createElement('canvas').getContext('2d');
  if (!measureCtx) return text.length * size * 0.5;
  measureCtx.font = `${bi ? 'italic bold ' : ''}${size}px ${FONT}`;
  return measureCtx.measureText(text).width;
}

type Seg = { t: string; bi?: boolean } | { sup: string; sub: string };
function mathLabel(segs: Seg[], size: number, cx: number, cy: number, rotation = 0) {
  const small = Math.round(size * 0.68);
  const items: any[] = [];
  let x = 0;
  for (const s of segs) {
    if ('t' in s) {
      const lead = s.t.length - s.t.trimStart().length;
      const body = s.t.trim();
      const leadW = lead ? tw(' '.repeat(lead), size) : 0;
      items.push({
        type: 'text', x: x + leadW, y: 0,
        style: { text: body, fontSize: size, lineHeight: size, fontFamily: FONT, fontWeight: s.bi ? 'bold' : 'normal', fontStyle: s.bi ? 'italic' : 'normal', fill: '#000', align: 'left', verticalAlign: 'middle' },
      });
      x += tw(s.t, size, !!s.bi);
    } else {
      const w = Math.max(tw(s.sup, small, true), tw(s.sub, small, true));
      const st = { fontSize: small, lineHeight: small, fontFamily: FONT, fontWeight: 'bold', fontStyle: 'italic', fill: '#000', align: 'left', verticalAlign: 'middle' };
      items.push({ type: 'text', x: x + 2.5, y: -size * 0.36, style: { ...st, text: s.sup } });
      items.push({ type: 'text', x: x + 2.5, y: size * 0.36, style: { ...st, text: s.sub } });
      x += w + 4.5;
    }
  }
  items.forEach((it) => { it.x -= x / 2; });
  return { type: 'group', x: cx, y: cy, rotation, children: items };
}

function errBars(g: number, ys: (number | null)[], errs: number[], color: string) {
  const data: number[][] = [];
  HF.forEach((x, k) => {
    const y = ys[k];
    const e = errs[k];
    if (y != null && e > 0) data.push([x, y - e, y + e]);
  });
  return {
    type: 'custom', xAxisIndex: g * 2, yAxisIndex: g, z: 2, silent: true,
    encode: { x: 0, y: [1, 2] },
    renderItem: (_p: any, api: any) => {
      const x = api.value(0);
      const lo = api.coord([x, api.value(1)]);
      const hi = api.coord([x, api.value(2)]);
      const w = 2.5;
      const st = { stroke: color, lineWidth: 1 };
      return {
        type: 'group',
        children: [
          { type: 'line', shape: { x1: lo[0], y1: lo[1], x2: hi[0], y2: hi[1] }, style: st },
          { type: 'line', shape: { x1: lo[0] - w, y1: lo[1], x2: lo[0] + w, y2: lo[1] }, style: st },
          { type: 'line', shape: { x1: hi[0] - w, y1: hi[1], x2: hi[0] + w, y2: hi[1] }, style: st },
        ],
      };
    },
    data,
  };
}

function pts(ys: (number | null)[]) {
  const out: number[][] = [];
  HF.forEach((x, k) => { const y = ys[k]; if (y != null) out.push([x, y]); });
  return out;
}

function buildOption() {
  const grids: any[] = [];
  const xAxes: any[] = [];
  const yAxes: any[] = [];
  const series: any[] = [];
  const graphic: any[] = [];

  for (let g = 0; g < 10; g++) {
    const left = g < 5;
    const idx = left ? g : g - 5;
    const box = left ? LEFT_BOX[idx] : RIGHT_BOX[idx];
    grids.push({
      left: left ? 30 : 442, width: left ? 368 : 369, top: box[0], height: box[1] - box[0],
      show: true, borderColor: '#000', borderWidth: 1, backgroundColor: 'transparent',
    });
    const common = {
      gridIndex: g, type: 'value', min: left ? -20 : 0, max: left ? 20 : 30, interval: left ? 5 : 4,
      axisLine: { show: true, onZero: false, lineStyle: { color: '#000', width: 1 } },
      axisTick: { show: true, inside: true, length: 5, lineStyle: { color: '#000', width: 1 } },
      minorTick: { show: true, splitNumber: 2, length: 3, lineStyle: { color: '#000', width: 1 } },
      splitLine: { show: false },
      minorSplitLine: { show: false },
    };
    const lab = { fontSize: 13, lineHeight: 12, color: '#000', fontFamily: FONT, showMaxLabel: left, showMinLabel: true };
    xAxes.push({ ...common, position: 'bottom', axisLabel: { ...lab, show: idx === 4, margin: 3 } });
    xAxes.push({ ...common, position: 'top', axisLabel: { ...lab, show: idx === 0, margin: 6 } });
    const yr = left ? LEFT_Y[idx] : RIGHT_Y[idx];
    yAxes.push({ gridIndex: g, type: 'value', min: yr[0], max: yr[1], show: false });
  }

  // left panels
  LEFT_PANELS.forEach((p, g) => {
    const ax = { xAxisIndex: g * 2, yAxisIndex: g };
    const dots = [
      ...VELOCITY.map((v, k) => [v, p.data[k]]),
      ...VELOCITY2.map((v, k) => [v, p.data2[k]]),
    ];
    series.push({
      ...ax, type: 'scatter', name: 'data', symbol: 'circle', symbolSize: 4, z: 2, silent: true,
      itemStyle: { color: '#000' }, data: dots,
    });
    const line = (name: string, d: number[][], color: string, w: number, z: number) => ({
      ...ax, type: 'line', name, data: d, symbol: 'none', showSymbol: false, smooth: 0.3, z, silent: true,
      lineStyle: { color, width: w },
    });
    series.push(line('Ni50Mn45Sn5', p.host, BLUE, 2, 3));
    series.push(line('Ni2MnSn', p.ni2, GREEN, 2, 4));
    series.push(line('residual', p.res, ORANGE, 2, 5));
    series.push(line('fit', p.fit, RED, 2.2, 6));
    const b = p.bar;
    series.push({
      ...ax, type: 'line', name: 'scale', z: 7, silent: true,
      symbol: 'rect', symbolSize: [8, 1.4], showSymbol: true, showAllSymbol: true,
      lineStyle: { color: '#000', width: 1.4 }, itemStyle: { color: '#000' },
      data: [
        [b.x, b.top],
        { value: [b.x, b.top - b.len / 2], symbolSize: 0.1, label: { show: true, position: 'right', distance: 3, formatter: b.text, fontSize: 15, color: '#000', fontFamily: FONT } },
        [b.x, b.top - b.len],
      ],
    });
    graphic.push({ type: 'text', x: 35, y: p.labelY, style: { text: p.tag, fontSize: 23, fontFamily: FONT, fill: '#000', align: 'left', verticalAlign: 'middle' } });
  });

  // right panels
  RIGHT_PANELS.forEach((p, i) => {
    const g = i + 5;
    const ax = { xAxisIndex: g * 2, yAxisIndex: g };
    series.push({ ...ax, type: 'line', data: [[0, 0], [30, 0]], symbol: 'none', z: 1, silent: true, lineStyle: { color: '#333', width: 1 } });
    if (p.blueErr) series.push(errBars(g, p.blue, p.blueErr, BLUE_ERR));
    if (p.orangeErr) series.push(errBars(g, p.orange, p.orangeErr, ORANGE_ERR));
    series.push({ ...ax, type: 'line', name: 'fit', data: pts(p.red), symbol: 'none', smooth: 0.3, z: 3, silent: true, lineStyle: { color: RED, width: 2 } });
    series.push({ ...ax, type: 'scatter', name: 'Ni50Mn45Sn5', data: pts(p.blue), symbol: 'circle', symbolSize: 7, z: 4, silent: true, itemStyle: { color: BLUE } });
    series.push({ ...ax, type: 'scatter', name: 'residual', data: pts(p.orange), symbol: 'rect', symbolSize: 6, z: 5, silent: true, itemStyle: { color: ORANGE } });
    series.push({ ...ax, type: 'scatter', name: 'Ni2MnSn', data: pts(p.green), symbol: 'triangle', symbolSize: 7, z: 6, silent: true, itemStyle: { color: GREEN } });
    graphic.push({ type: 'text', x: 443, y: p.labelY, style: { text: p.tag, fontSize: 23, fontFamily: FONT, fill: '#000', align: 'left', verticalAlign: 'middle' } });
    graphic.push({
      type: 'text', x: 807, y: p.noteY,
      style: {
        text: p.note, fontSize: 22, lineHeight: 26, fontFamily: FONT, fill: '#000', align: 'right', verticalAlign: 'middle',
        rich: { s: { fontSize: 15, lineHeight: 15, verticalAlign: 'bottom', fontFamily: FONT, fill: '#000' } },
      },
    });
  });

  // legend (top)
  const LY = 13;
  graphic.push({ type: 'circle', shape: { cx: 123, cy: LY, r: 3.5 }, style: { fill: '#000' } });
  const legText = (x: number, t: string) => ({
    type: 'text', x, y: LY,
    style: {
      text: t, fontSize: 21, lineHeight: 26, fontFamily: FONT, fill: '#000', align: 'left', verticalAlign: 'middle',
      rich: { s: { fontSize: 14, lineHeight: 14, verticalAlign: 'bottom', fontFamily: FONT, fill: '#000' } },
    },
  });
  const legLine = (x1: number, x2: number, color: string) => ({ type: 'line', shape: { x1, y1: LY, x2, y2: LY }, style: { stroke: color, lineWidth: 2.5 } });
  graphic.push(legText(153, 'data'));
  graphic.push(legLine(200, 250, RED));
  graphic.push(legText(255, 'fit'));
  graphic.push(legLine(279, 329, BLUE));
  graphic.push(legText(335, 'Ni{s|50}Mn{s|45}Sn{s|5}'));
  graphic.push(legLine(458, 508, GREEN));
  graphic.push(legText(515, 'Ni{s|2}MnSn'));
  graphic.push(legLine(604, 654, ORANGE));
  graphic.push(legText(660, 'residual'));

  // axis titles
  graphic.push(mathLabel([{ t: 'Relative Transmission' }], 19, 10, 356, Math.PI / 2));
  graphic.push(mathLabel([{ t: 'Probability, ' }, { t: 'p', bi: true }, { t: '(' }, { t: 'B', bi: true }, { sup: 'Sn', sub: 'hf' }, { t: ')' }], 19, 419, 330, Math.PI / 2));
  graphic.push(mathLabel([{ t: 'Velocity, ' }, { t: 'v', bi: true }, { t: ' (mm/s)' }], 19, 214, 666));
  graphic.push(mathLabel([{ t: 'Hyperfine field, ' }, { t: 'B', bi: true }, { sup: 'Sn', sub: 'hf' }, { t: ' (T)' }], 19, 627, 666));

  return {
    animation: false,
    backgroundColor: '#fff',
    textStyle: { fontFamily: FONT },
    grid: grids,
    xAxis: xAxes,
    yAxis: yAxes,
    series,
    graphic,
  };
}

export default function App() {
  const ref = useRef<HTMLDivElement>(null);
  useEffect(() => {
    if (!ref.current) return;
    const chart = echarts.init(ref.current, undefined, { renderer: 'svg' });
    chart.setOption(buildOption() as any);
    return () => chart.dispose();
  }, []);
  return <div ref={ref} style={{ position: 'fixed', left: 0, top: 0, width: 813, height: 680, background: '#fff' }} />;
}
